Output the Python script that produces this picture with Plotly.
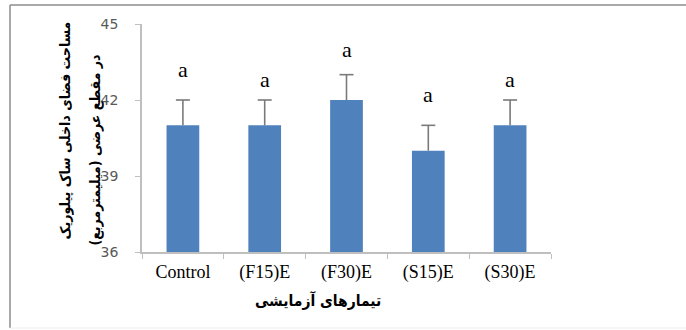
import plotly.graph_objects as go

# Treatment groups and measured cross-sectional area (mm^2)
categories = ["Control", "(F15)E", "(F30)E", "(S15)E", "(S30)E"]
means = [41, 41, 42, 40, 41]
errors = [1, 1, 1, 1, 1]
# Significance letters and their heights on the value axis
letters = ["a", "a", "a", "a", "a"]
letter_y = [43.2, 42.8, 44.0, 42.2, 42.8]
y_ticks = [36, 39, 42, 45]

y_title_1 = "مساحت فضای داخلی ساک پیلوریک"
y_title_2 = "در مقطع عرضی (میلیمترمربع)"
x_title = "تیمارهای آزمایشی"

ERR_COLOR = "#7a7a7a"
TITLE_FONT = "DejaVu Sans Condensed"

fig = go.Figure()
fig.add_trace(go.Bar(
    x=categories,
    y=means,
    marker=dict(color="#4f81bd", line=dict(width=0)),
    width=0.4,
    error_y=dict(type="data", array=errors, arrayminus=[0] * len(errors),
                 symmetric=False, color=ERR_COLOR, thickness=1.6, width=0),
))
# Caps only on the upper end of each error bar
fig.add_trace(go.Scatter(
    x=categories,
    y=[m + e for m, e in zip(means, errors)],
    mode="markers",
    marker=dict(symbol="line-ew-open", size=10, color=ERR_COLOR,
                line=dict(color=ERR_COLOR, width=1.6)),
    hoverinfo="skip",
))

for cat, txt, yy in zip(categories, letters, letter_y):
    fig.add_annotation(x=cat, y=yy, text=txt, showarrow=False,
                       font=dict(family="Liberation Serif", size=22, color="#000"),
                       xref="x", yref="y")

# Rotated two-line value-axis title
fig.add_annotation(x=(54 - 142) / 409, y=(252 - 131) / 228, xref="paper", yref="paper",
                   text=y_title_1, textangle=-90, showarrow=False,
                   font=dict(family=TITLE_FONT, size=14, color="#000", weight="bold"))
fig.add_annotation(x=(84 - 142) / 409, y=(252 - 150) / 228, xref="paper", yref="paper",
                   text=y_title_2, textangle=-90, showarrow=False,
                   font=dict(family=TITLE_FONT, size=14, color="#000", weight="bold"))
# Category-axis title
fig.add_annotation(x=(318 - 142) / 409, y=(252 - 312) / 228, xref="paper", yref="paper",
                   text=x_title, showarrow=False,
                   font=dict(family=TITLE_FONT, size=15.5, color="#000", weight="bold"))

# Outer chart frame
frame_l = (10 - 142) / 409
frame_r = (700 - 142) / 409
frame_t = (252 - 5) / 228
frame_b = (252 - 328) / 228
fig.add_shape(type="line", xref="paper", yref="paper", x0=frame_l, x1=frame_r,
              y0=frame_t, y1=frame_t, line=dict(color="#8c8c8c", width=1.5))
fig.add_shape(type="line", xref="paper", yref="paper", x0=frame_l, x1=frame_l,
              y0=frame_b, y1=frame_t, line=dict(color="#8c8c8c", width=1.5))
fig.add_shape(type="line", xref="paper", yref="paper", x0=frame_l, x1=frame_r,
              y0=frame_b, y1=frame_b, line=dict(color="#ececec", width=1))

fig.update_layout(
    width=686, height=330,
    margin=dict(l=142, r=135, t=24, b=78),
    paper_bgcolor="white", plot_bgcolor="white",
    showlegend=False,
    xaxis=dict(
        type="category",
        showline=True, linecolor="#bfbfbf", linewidth=1.5,
        ticks="outside", tickson="boundaries", ticklen=5, tickcolor="#bfbfbf",
        tickfont=dict(family="Liberation Serif", size=18, color="#000"),
        ticklabelstandoff=3,
        showgrid=False,
    ),
    yaxis=dict(
        range=[36, 45],
        tickvals=y_ticks,
        showline=True, linecolor="#bfbfbf", linewidth=1.5,
        ticks="outside", ticklen=5, tickcolor="#bfbfbf",
        tickfont=dict(family="DejaVu Sans", size=14, color="#595959"),
        ticklabelstandoff=14,
        showgrid=False, zeroline=False,
    ),
)

fig.write_html("out.html")
